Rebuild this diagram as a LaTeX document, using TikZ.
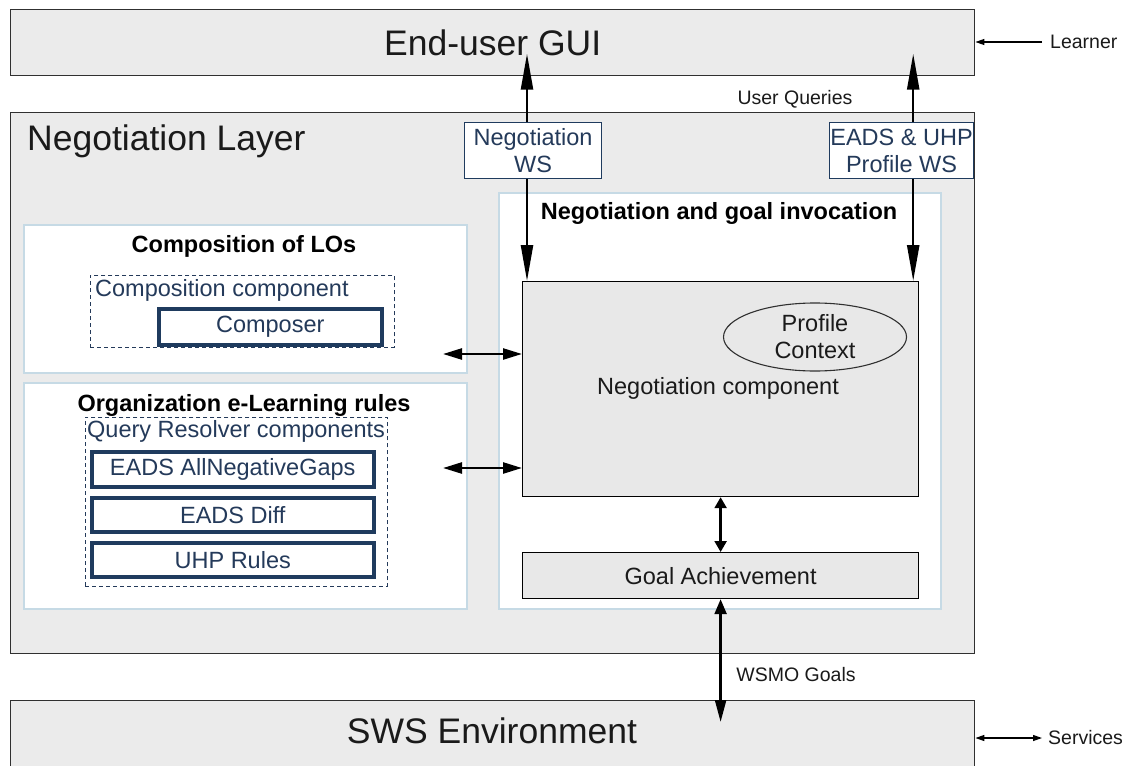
\documentclass[tikz,border=0pt]{standalone}
\usepackage{fontspec}
\setmainfont{Liberation Sans}
\usetikzlibrary{arrows.meta,shapes.geometric}
\definecolor{laygray}{HTML}{EBEBEB}
\definecolor{guigray}{HTML}{E8E8E8}
\definecolor{panelline}{HTML}{C6DAE5}
\definecolor{navy}{HTML}{1F3B5E}
\definecolor{bluetext}{HTML}{243A5A}
\definecolor{darkline}{HTML}{303030}
\definecolor{maintext}{HTML}{1A1A1A}
\tikzset{
  bigfont/.style={font=\fontsize{35.5}{40}\selectfont, text=maintext},
  midfont/.style={font=\fontsize{23.5}{27}\selectfont, text=maintext},
  boldfont/.style={font=\fontsize{23.5}{27}\selectfont\bfseries},
  smallfont/.style={font=\fontsize{19.5}{22}\selectfont, text=maintext},
  layer/.style={draw=darkline, line width=1.4pt, fill=laygray, anchor=north west, inner sep=0pt},
  panel/.style={draw=panelline, line width=1.6pt, fill=white, anchor=north west, inner sep=0pt},
  dashbox/.style={draw=bluetext, line width=0.9pt, dash pattern=on 4pt off 3pt, anchor=north west, inner sep=0pt},
  thickbox/.style={draw=navy, line width=3.5pt, fill=white, anchor=north west, inner sep=0pt, midfont, text=bluetext},
  compbox/.style={draw=black, line width=1.2pt, fill=guigray, anchor=north west, inner sep=0pt},
  wsbox/.style={draw=navy, line width=1.1pt, fill=white, anchor=north west, inner sep=0pt, midfont, text=bluetext, align=center},
  dblarrow/.style 2 args={line width=2.4pt, {Triangle[length=#1,width=#2]}-{Triangle[length=#1,width=#2]}},
  thinarrow/.style={line width=1.2pt},
}
\begin{document}
\begin{tikzpicture}[x=1pt,y=-1pt]
\useasboundingbox (0,0) rectangle (1126,765);
\clip (0,0) rectangle (1126,765);
% layers
\node[layer, minimum width=964pt, minimum height=66pt, bigfont] (gui) at (10,9) {End-user GUI};
\node[layer, minimum width=964pt, minimum height=541pt] (neglayer) at (10,112) {};
\node[bigfont, anchor=west, inner sep=0pt] (neglabel) at (27,141) {Negotiation Layer};
\node[layer, minimum width=964pt, minimum height=70pt] (sws) at (10,700) {};
\node[bigfont, inner sep=0pt] (swslabel) at (492,731) {SWS Environment};
% panels
\node[panel, minimum width=443pt, minimum height=148pt] (comppanel) at (23,224) {};
\node[boldfont] (comptitle) at (244,246) {Composition of LOs};
\node[dashbox, minimum width=304pt, minimum height=72pt] (compdash) at (90,275) {};
\node[midfont, text=bluetext, anchor=west, inner sep=0pt] (compdashlbl) at (95,290) {Composition component};
\node[thickbox, minimum width=223pt, minimum height=36pt] (composer) at (157,307) {Composer};
\node[panel, minimum width=443pt, minimum height=226pt] (orgpanel) at (23,382) {};
\node[boldfont] (orgtitle) at (244,405) {Organization e-Learning rules};
\node[dashbox, minimum width=302pt, minimum height=169pt] (qrdash) at (85,417) {};
\node[midfont, text=bluetext, anchor=west, inner sep=0pt] (qrlbl) at (87,431) {Query Resolver components};
\node[thickbox, minimum width=282pt, minimum height=35pt] (ang) at (90,450) {EADS AllNegativeGaps};
\node[thickbox, minimum width=282pt, minimum height=34pt] (diff) at (90,496) {EADS Diff};
\node[thickbox, minimum width=282pt, minimum height=34pt] (uhp) at (90,541) {UHP Rules};
\node[panel, minimum width=442pt, minimum height=416pt] (negpanel) at (498,192) {};
\node[boldfont] (negtitle) at (719,213) {Negotiation and goal invocation};
\node[compbox, minimum width=396pt, minimum height=215pt] (negcomp) at (522,281) {};
\node[midfont] (negcomplbl) at (718,388) {Negotiation component};
\node[ellipse, draw=darkline, line width=1.1pt, fill=guigray, minimum width=183pt, minimum height=68pt, inner sep=0pt, midfont, align=center] (profile) at (815,337) {Profile\\Context};
\node[compbox, minimum width=396pt, minimum height=46pt, midfont] (goal) at (522,552) {Goal Achievement};
% arrows
\coordinate (la) at ([xshift=5pt]negcomp.north west);
\coordinate (ra) at ([xshift=-6pt]negcomp.north east);
\draw[dblarrow={36pt}{12pt}] (la) -- ([yshift=-11pt]la |- gui.center);
\draw[dblarrow={36pt}{12pt}] (ra) -- ([yshift=-11pt]ra |- gui.center);
\draw[dblarrow={11pt}{12pt}] (negcomp.south) -- (goal.north);
\draw[line width=2.4pt, {Triangle[length=15pt,width=12pt]}-{Triangle[length=22pt,width=11pt]}] (goal.south) -- ([yshift=-22pt]goal.south |- sws.north);
\coordinate (ca) at (443,354);
\coordinate (cb) at (443,468);
\draw[dblarrow={19pt}{11pt}] (ca) -- (ca -| negcomp.west);
\draw[dblarrow={19pt}{11pt}] (cb) -- (cb -| negcomp.west);
% WS boxes
\node[wsbox, minimum width=137pt, minimum height=56pt] (negws) at (464,122) {Negotiation\\WS};
\node[wsbox, minimum width=144pt, minimum height=56pt] (eadsws) at (829,122) {EADS \& UHP\\Profile WS};
% side labels
\node[smallfont, anchor=west, inner sep=0pt] (learner) at (1050,42) {Learner};
\draw[thinarrow, -{Triangle[length=9pt,width=6pt]}] ([xshift=-8pt]learner.west) -- (learner.west -| gui.east);
\node[smallfont, anchor=west, inner sep=0pt] (services) at (1048,738) {Services};
\draw[thinarrow, {Triangle[length=9pt,width=6pt]}-{Triangle[length=9pt,width=6pt]}] (services.west -| sws.east) -- ([xshift=-6pt]services.west);
\node[smallfont] (uq) at (795,99) {User Queries};
\node[smallfont] (wsmo) at (796,675) {WSMO Goals};
\end{tikzpicture}
\end{document}
